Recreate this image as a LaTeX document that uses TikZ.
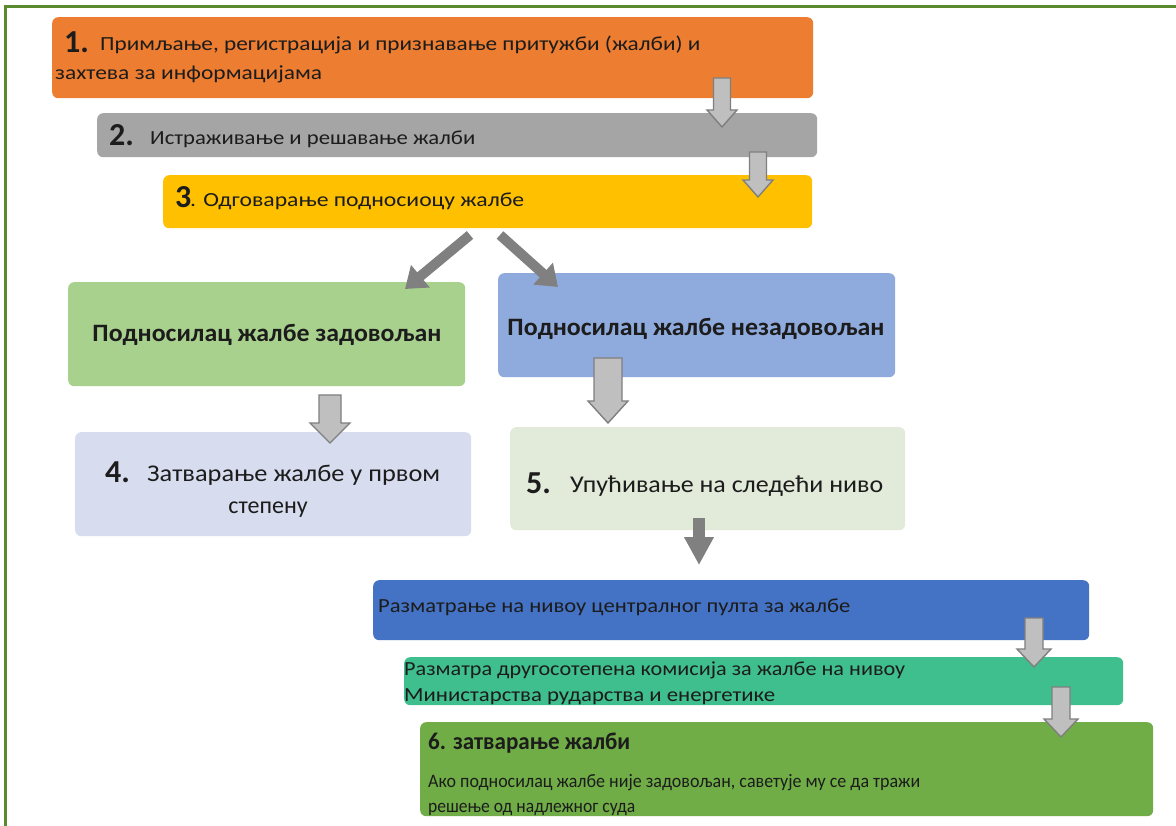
\documentclass[tikz,border=0pt]{standalone}
\usepackage{fontspec}
\setmainfont{Carlito}
\usetikzlibrary{arrows.meta,calc}
\definecolor{frameg}{HTML}{5A8A2E}
\definecolor{corange}{HTML}{ED7D31}
\definecolor{cgray}{HTML}{A5A5A5}
\definecolor{cyellow}{HTML}{FFC000}
\definecolor{cgreenl}{HTML}{A9D18E}
\definecolor{cbluel}{HTML}{8FAADC}
\definecolor{clav}{HTML}{D7DCEF}
\definecolor{cpale}{HTML}{E2EAD9}
\definecolor{cblue}{HTML}{4472C4}
\definecolor{cteal}{HTML}{3FBF8E}
\definecolor{cgreen}{HTML}{70AD47}
\definecolor{arrfill}{HTML}{BFBFBF}
\definecolor{arrline}{HTML}{7F7F7F}
\definecolor{arrdark}{HTML}{808080}
\definecolor{ink}{HTML}{1C1C1C}
\newcommand\fitw[2]{\resizebox{#1pt}{\height}{#2}}
\newcommand\harrow[5]{\path[harr] let \p1=(#1), \p2=(#2) in
  (\x1-#3pt,\y1) -- (\x1+#3pt,\y1) -- (\x1+#3pt,\y2+#5pt) -- (\x1+#4pt,\y2+#5pt)
  -- (\x1,\y2) -- (\x1-#4pt,\y2+#5pt) -- (\x1-#3pt,\y2+#5pt) -- cycle;}
\begin{document}
\begin{tikzpicture}[x=1pt,y=-1pt,
  box/.style={rounded corners=6pt, draw=none, inner sep=0pt, anchor=north west},
  txt/.style={inner sep=0pt, anchor=base west, text=ink},
  num/.style={inner sep=0pt, anchor=base west, text=ink, font=\bfseries\fontsize{32}{34}\selectfont},
  harr/.style={fill=arrfill, draw=arrline, line width=1.4pt, line join=miter},
  sarr/.style={draw=arrdark, line width=10pt, -{Triangle[width=28pt,length=20pt]}},
  frame/.style={draw=frameg, line width=3pt}]
\useasboundingbox (0,0) rectangle (1176,826);
\fill[white] (0,0) rectangle (1176,826);
\draw[frame] (5,826) -- (5,7) -- (1176,7);

% boxes
\node[box, fill=corange, minimum width=761pt, minimum height=81pt] (b1) at (52,17) {};
\node[box, fill=cgray, minimum width=720pt, minimum height=44pt] (b2) at (97,113) {};
\node[box, fill=cyellow, minimum width=649pt, minimum height=53pt] (b3) at (163,175) {};
\node[box, fill=cgreenl, minimum width=397pt, minimum height=104pt] (bg) at (68,282) {};
\node[box, fill=cbluel, minimum width=397pt, minimum height=104pt] (bb) at (498,273) {};
\node[box, fill=clav, minimum width=396pt, minimum height=104pt] (b4) at (75,432) {};
\node[box, fill=cpale, minimum width=395pt, minimum height=103pt] (b5) at (510,427) {};
\node[box, fill=cblue, minimum width=716pt, minimum height=60pt] (bc) at (373,580) {};
\node[box, fill=cteal, minimum width=719pt, minimum height=48pt] (bt) at (404,657) {};
\node[box, fill=cgreen, minimum width=733pt, minimum height=94pt] (b6) at (420,722) {};

% texts
\node[num] (n1) at (64,53) {1.};
\node[txt] (t1a) at (100,51) {\fitw{600}{\fontsize{20}{22}\selectfont Примљање, регистрација и признавање притужби (жалби) и}};
\node[txt] (t1b) at (55,80) {\fitw{267}{\fontsize{20}{22}\selectfont захтева за информацијама}};
\node[num] (n2) at (109,146) {2.};
\node[txt] (t2) at (150,145) {\fitw{325}{\fontsize{20}{22}\selectfont Истраживање и решавање жалби}};
\node[num] (n3) at (175,208) {3};
\node[txt] (t3) at (190,207) {\fitw{334}{\fontsize{20}{22}\selectfont . Одговарање подносиоцу жалбе}};
\node[txt, anchor=base] (tg) at (267,342) {\fitw{349}{\bfseries\fontsize{25}{27}\selectfont Подносилац жалбе задовољан}};
\node[txt, anchor=base] (tb) at (696,336) {\fitw{377}{\bfseries\fontsize{25}{27}\selectfont Подносилац жалбе незадовољан}};
\node[num] (n4) at (105,482) {4.};
\node[txt] (t4a) at (147,481) {\fitw{293}{\fontsize{24}{26}\selectfont Затварање жалбе у првом}};
\node[txt, anchor=base] (t4b) at (268,513) {\fontsize{24}{26}\selectfont степену};
\node[num] (n5) at (526,493) {5.};
\node[txt] (t5) at (570,492) {\fitw{313}{\fontsize{24}{26}\selectfont Упућивање на следећи ниво}};
\node[txt] (tc) at (378,612) {\fitw{472}{\fontsize{20}{22}\selectfont Разматрање на нивоу централног пулта за жалбе}};
\node[txt] (tt1) at (404,675) {\fitw{501}{\fontsize{20}{22}\selectfont Разматра другосотепена комисија за жалбе на нивоу}};
\node[txt] (tt2) at (404,701) {\fitw{371}{\fontsize{20}{22}\selectfont Министарства рударства и енергетике}};
\node[txt] (t6a) at (428,749) {\fitw{202}{\bfseries\fontsize{24}{26}\selectfont 6. затварање жалби}};
\node[txt] (t6b) at (428,787) {\fitw{492}{\fontsize{19}{21}\selectfont Ако подносилац жалбе није задовољан, саветује му се да тражи}};
\node[txt] (t6c) at (428,812) {\fitw{207}{\fontsize{19}{21}\selectfont решење од надлежног суда}};

% arrow anchor coordinates
\coordinate (a12s) at (722,78);  \coordinate (a12e) at (722,127);
\coordinate (a23s) at (758,152); \coordinate (a23e) at (758,197);
\coordinate (ag4s) at (330,395); \coordinate (ag4e) at (330,443);
\coordinate (ab5s) at (608,358); \coordinate (ab5e) at (608,423);
\coordinate (acts) at (1034,618); \coordinate (acte) at (1034,667);
\coordinate (at6s) at (1061,687); \coordinate (at6e) at (1061,737);
\coordinate (dls) at (470,235); \coordinate (dle) at (405,289);
\coordinate (drs) at (500,235); \coordinate (dre) at (558,287);
\coordinate (vds) at (699,518); \coordinate (vde) at (699,565);

\harrow{a12s}{a12e}{8.5}{15}{17}
\harrow{a23s}{a23e}{8.5}{15}{17}
\harrow{ag4s}{ag4e}{11}{20}{20}
\harrow{ab5s}{ab5e}{14}{20}{22}
\harrow{acts}{acte}{9}{17}{18}
\harrow{at6s}{at6e}{9}{17}{18}
\draw[sarr] (dls) -- (dle);
\draw[sarr] (drs) -- (dre);
\draw[sarr, line width=12pt, -{Triangle[width=28pt,length=28pt]}] (vds) -- (vde);
\end{tikzpicture}
\end{document}
